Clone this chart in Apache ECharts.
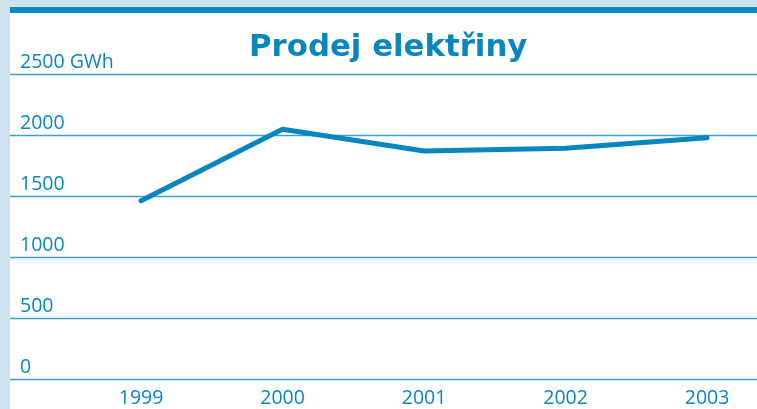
<!DOCTYPE html>
<html>
<head>
<meta charset="utf-8">
<script src="https://cdn.jsdelivr.net/npm/echarts@6/dist/echarts.min.js"></script>
<style>
  html, body { margin: 0; padding: 0; background: #ffffff; }
  #chart { width: 757px; height: 409px; }
</style>
</head>
<body>
<div id="chart"></div>
<script>
const years = [1999, 2000, 2001, 2002, 2003];
const sales = [1461, 2047, 1869, 1891, 1978];
const yTicks = [0, 500, 1000, 1500, 2000, 2500];
const titleText = 'Prodej elektřiny';
const unitText = 'GWh';

const blue = '#0a86bf';
const chart = echarts.init(document.getElementById('chart'), null, { renderer: 'canvas' });

chart.setOption({
  animation: false,
  backgroundColor: '#ffffff',
  title: {
    text: titleText,
    left: 244,
    top: 27,
    textStyle: { fontFamily: 'DejaVu Sans', fontWeight: 'bold', fontSize: 30.8, color: blue }
  },
  graphic: [
    { type: 'rect', left: 0, top: 0, shape: { width: 757, height: 7 }, style: { fill: '#cde1ef' }, silent: true },
    { type: 'rect', left: 0, top: 0, shape: { width: 10, height: 409 }, style: { fill: '#cde1ef' }, silent: true },
    { type: 'rect', left: 10, top: 7, shape: { width: 747, height: 6 }, style: { fill: '#0a88c0' }, silent: true }
  ],
  grid: { left: 10, right: 0, top: 74, bottom: 30, containLabel: false },
  xAxis: {
    type: 'value',
    min: 1998.074,
    max: 2003.353,
    axisLine: { show: false },
    axisTick: { show: false },
    splitLine: { show: false },
    axisLabel: {
      customValues: years,
      formatter: v => String(Math.round(v)),
      fontFamily: 'Open Sans',
      fontSize: 19.5,
      color: blue,
      margin: 9
    }
  },
  yAxis: {
    type: 'value',
    min: 0,
    max: 2500,
    interval: 500,
    axisLine: { show: false },
    axisTick: { show: false },
    splitLine: { show: true, lineStyle: { color: '#3f9fd0', width: 1.3 } },
    axisLabel: {
      inside: true,
      margin: 10,
      verticalAlign: 'bottom',
      padding: [0, 0, 2, 0],
      fontFamily: 'Open Sans',
      fontSize: 19.5,
      color: blue,
      formatter: v => v === yTicks[yTicks.length - 1] ? v + ' ' + unitText : String(v)
    }
  },
  series: [{
    type: 'line',
    data: years.map((y, i) => [y, sales[i]]),
    showSymbol: false,
    symbol: 'none',
    lineStyle: { color: blue, width: 5, cap: 'round', join: 'round' }
  }]
});
</script>
</body>
</html>
